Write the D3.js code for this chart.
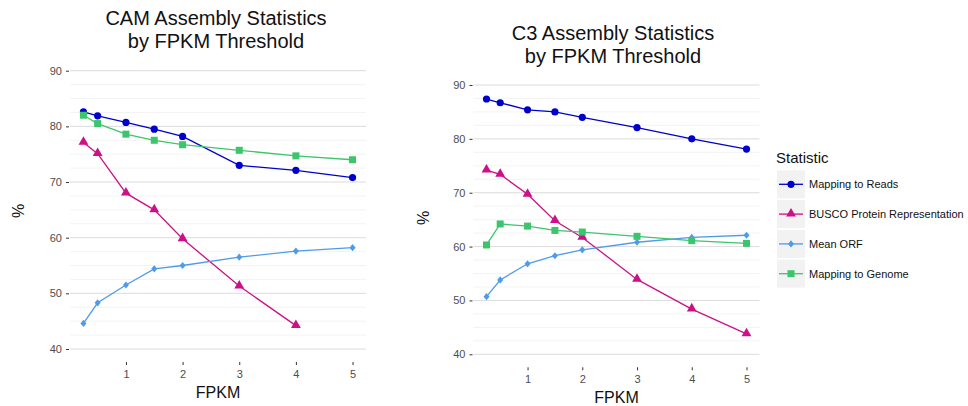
<!DOCTYPE html>
<html>
<head>
<meta charset="utf-8">
<script src="https://cdn.jsdelivr.net/npm/d3@7"></script>
<style>
  body { margin: 0; background: #fff; }
  svg text { font-family: "Liberation Sans", Arial, sans-serif; }
</style>
</head>
<body>
<svg id="chart" width="968" height="406"></svg>
<script>
// FPKM thresholds (shared by both panels)
let fpkm = [0.25, 0.5, 1, 1.5, 2, 3, 4, 5];

// CAM panel values
let camReads  = [82.6, 81.9, 80.7, 79.5, 78.2, 73.0, 72.1, 70.8];
let camBusco  = [77.1, 75.1, 68.0, 65.0, 59.8, 51.3, 44.2];
let camOrf    = [44.6, 48.3, 51.5, 54.4, 55.0, 56.5, 57.6, 58.2];
let camGenome = [82.0, 80.5, 78.6, 77.5, 76.7, 75.7, 74.7, 74.0];

// C3 panel values
let c3Reads  = [87.4, 86.7, 85.4, 85.0, 84.0, 82.1, 80.0, 78.1];
let c3Busco  = [74.2, 73.4, 69.7, 64.8, 61.7, 53.9, 48.4, 43.8];
let c3Orf    = [50.7, 53.8, 56.8, 58.3, 59.4, 60.8, 61.7, 62.1];
let c3Genome = [60.3, 64.2, 63.8, 63.0, 62.7, 61.9, 61.1, 60.6];

let xTicks = [1, 2, 3, 4, 5];
let yTicks = [40, 50, 60, 70, 80, 90];

let statNames = ["Mapping to Reads", "BUSCO Protein Representation", "Mean ORF", "Mapping to Genome"];
let statColors = ["#0000CD", "#CC1188", "#4F9BEA", "#3CC56C"];
let statShapes = ["circle", "triangle", "diamond", "square"];

let svg = d3.select("#chart");

// draws one marker shape at (x, y)
function marker(g, shape, x, y, color) {
  if (shape == "circle") {
    g.append("circle").attr("cx", x).attr("cy", y).attr("r", 3.6).attr("fill", color);
  } else if (shape == "triangle") {
    g.append("path").attr("d", d3.symbol().type(d3.symbolTriangle).size(42)())
      .attr("transform", "translate(" + x + "," + (y - 0.5) + ")").attr("fill", color);
  } else if (shape == "diamond") {
    g.append("path").attr("d", "M0,-3.6L3,0L0,3.6L-3,0Z")
      .attr("transform", "translate(" + x + "," + y + ")").attr("fill", color);
  } else {
    g.append("rect").attr("x", x - 3.5).attr("y", y - 3.5).attr("width", 7).attr("height", 7).attr("fill", color);
  }
}

function drawPanel(p) {
  let x = d3.scaleLinear().domain([0.0125, 5.2375]).range([p.left, p.right]);
  let y = d3.scaleLinear().domain([40, 90]).range([p.bottom, p.top]);
  let g = svg.append("g");

  // gridlines every 2.5
  let grid = d3.range(40, 90.1, 2.5);
  g.selectAll(".grid").data(grid).enter().append("line")
    .attr("x1", p.left).attr("x2", p.right)
    .attr("y1", d => y(d)).attr("y2", d => y(d))
    .attr("stroke", d => d % 10 == 0 ? "#dcdcdc" : "#f0f0f0")
    .attr("stroke-width", d => d % 10 == 0 ? 1 : 0.8);

  // y axis
  let yAxis = g.append("g").attr("transform", "translate(" + (p.left - 1) + ",0)")
    .call(d3.axisLeft(y).tickValues(yTicks).tickSize(3).tickPadding(4));
  yAxis.select(".domain").remove();
  yAxis.selectAll("line").attr("stroke", "#333");
  yAxis.selectAll("text").attr("fill", "#4d4d4d").style("font-size", "11px");

  // x axis
  let xAxis = g.append("g").attr("transform", "translate(0," + (p.bottom + 13) + ")")
    .call(d3.axisBottom(x).tickValues(xTicks).tickFormat(d3.format("d")).tickSize(3).tickPadding(5));
  xAxis.select(".domain").remove();
  xAxis.selectAll("line").attr("stroke", "#333");
  xAxis.selectAll("text").attr("fill", "#4d4d4d").style("font-size", "11px");

  // titles
  let cx = (p.left + p.right) / 2;
  g.append("text").attr("x", p.titleX).attr("y", p.titleY).attr("text-anchor", "middle")
    .style("font-size", "20px").attr("fill", "#111").text(p.title1);
  g.append("text").attr("x", p.titleX).attr("y", p.titleY + 23).attr("text-anchor", "middle")
    .style("font-size", "20px").attr("fill", "#111").text(p.title2);
  g.append("text").attr("x", cx).attr("y", p.bottom + 49).attr("text-anchor", "middle")
    .style("font-size", "16px").attr("fill", "#111").text("FPKM");
  g.append("text").attr("transform", "translate(" + p.pctX + "," + p.pctY + ") rotate(-90)")
    .attr("text-anchor", "middle").style("font-size", "16px").attr("fill", "#111").text("%");

  let line = d3.line().x(d => x(d[0])).y(d => y(d[1]));
  p.series.forEach(function (vals, i) {
    let pts = vals.map((v, j) => [fpkm[j], v]);
    g.append("path").datum(pts).attr("d", line).attr("fill", "none")
      .attr("stroke", statColors[i]).attr("stroke-width", 1.3);
    pts.forEach(d => marker(g, statShapes[i], x(d[0]), y(d[1]), statColors[i]));
  });
}

drawPanel({
  left: 70, right: 366, top: 70.7, bottom: 349,
  title1: "CAM Assembly Statistics", title2: "by FPKM Threshold", titleX: 216, titleY: 25,
  pctX: 24, pctY: 211,
  series: [camReads, camBusco, camOrf, camGenome]
});

drawPanel({
  left: 473.5, right: 759.5, top: 85, bottom: 354.3,
  title1: "C3 Assembly Statistics", title2: "by FPKM Threshold", titleX: 613, titleY: 40,
  pctX: 429, pctY: 218,
  series: [c3Reads, c3Busco, c3Orf, c3Genome]
});

// legend
let leg = svg.append("g").attr("transform", "translate(777,0)");
leg.append("text").attr("x", -1).attr("y", 163).style("font-size", "15px").attr("fill", "#111").text("Statistic");
statNames.forEach(function (name, i) {
  let cy = 184.3 + i * 29.8;
  leg.append("rect").attr("x", 0).attr("y", cy - 14).attr("width", 28).attr("height", 28).attr("fill", "#f2f2f2");
  leg.append("line").attr("x1", 2).attr("x2", 26).attr("y1", cy).attr("y2", cy)
    .attr("stroke", statColors[i]).attr("stroke-width", 1.3);
  marker(leg, statShapes[i], 14, cy, statColors[i]);
  leg.append("text").attr("x", 32).attr("y", cy + 4).style("font-size", "11px").attr("fill", "#111").text(name);
});
</script>
</body>
</html>
